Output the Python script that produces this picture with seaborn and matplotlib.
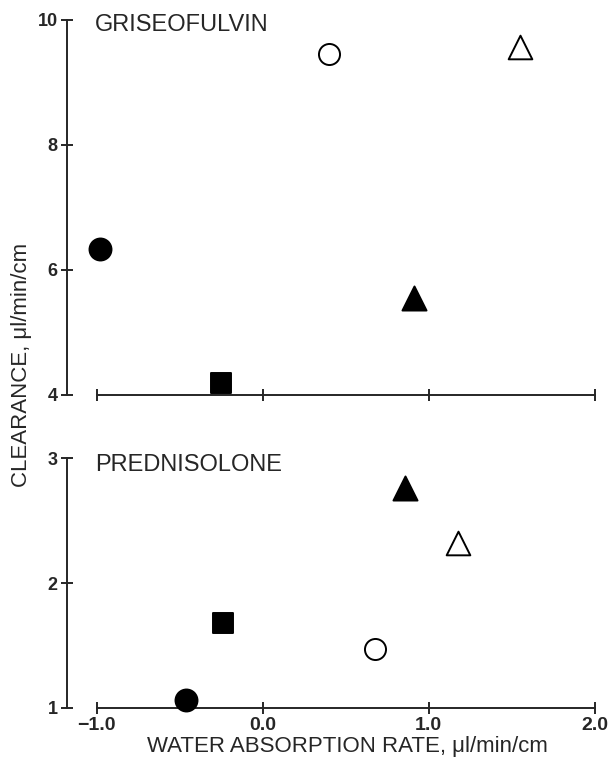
import numpy as np
import matplotlib
matplotlib.use('Agg')
import matplotlib.pyplot as plt
import seaborn as sns
import pandas as pd

# Values (water absorption rate vs clearance)
symbols = ['filled circle', 'filled square', 'open circle',
           'filled triangle', 'open triangle']
griseo_rate = [-0.98, -0.25, 0.40, 0.91, 1.55]
griseo_clear = [6.33, 4.19, 9.46, 5.55, 9.57]
pred_rate = [-0.46, -0.24, 0.68, 0.86, 1.18]
pred_clear = [1.06, 1.68, 1.47, 2.76, 2.32]

griseo_yticks = [4, 6, 8, 10]
pred_yticks = [1, 2, 3]
xticks = [-1.0, 0.0, 1.0, 2.0]

sns.set_style('ticks')
plt.rcParams['font.family'] = ['Liberation Sans', 'DejaVu Sans']

# marker, face colour, size (pt^2)
marker_style = {
    'filled circle': ('o', 'black', 250),
    'filled square': ('s', 'black', 220),
    'open circle': ('o', 'white', 230),
    'filled triangle': ('^', 'black', 300),
    'open triangle': ('^', 'white', 290),
}

df = pd.DataFrame({
    'symbol': symbols * 2,
    'rate': griseo_rate + pred_rate,
    'clearance': griseo_clear + pred_clear,
    'drug': ['GRISEOFULVIN'] * 5 + ['PREDNISOLONE'] * 5,
})

fig = plt.figure(figsize=(6.12, 7.61), dpi=100)
ax1 = fig.add_axes([0.109, 0.481, 0.868, 0.497])
ax2 = fig.add_axes([0.109, 0.070, 0.868, 0.336])


def draw_panel(ax, sub, ylim, yticks, title, title_y):
    for sym, grp in sub.groupby('symbol', sort=False):
        m, face, s = marker_style[sym]
        sns.scatterplot(data=grp, x='rate', y='clearance', marker=m,
                        color=face, edgecolor='black', linewidth=1.4,
                        s=s, clip_on=False, zorder=5, ax=ax, legend=False)
    ax.set_xlim(-1.18, 2.02)
    ax.set_ylim(*ylim)
    ax.set_xticks(xticks)
    ax.set_yticks(yticks)
    for side in ['top', 'right']:
        ax.spines[side].set_visible(False)
    ax.spines['bottom'].set_bounds(-1, 2)
    ax.spines['left'].set_bounds(yticks[0], yticks[-1])
    for side in ['bottom', 'left']:
        ax.spines[side].set_linewidth(1.4)
    ax.tick_params(direction='inout', length=9, width=1.4, labelsize=13,
                   pad=2)
    for lab in ax.get_yticklabels():
        lab.set_fontweight('bold')
    ax.set_xlabel('')
    ax.set_ylabel('')
    ax.text(0.053, title_y, title, transform=ax.transAxes, fontsize=17,
            va='center', ha='left')


draw_panel(ax1, df[df['drug'] == 'GRISEOFULVIN'], (4, 10.05),
           griseo_yticks, 'GRISEOFULVIN', 0.979)
ax1.set_xticklabels([])

draw_panel(ax2, df[df['drug'] == 'PREDNISOLONE'], (1, 3.05),
           pred_yticks, 'PREDNISOLONE', 0.949)
ax2.set_xticklabels(['\u22121.0', '0.0', '1.0', '2.0'], fontweight='bold',
                    fontsize=14)
ax2.set_xlabel('WATER ABSORPTION RATE, \u03bcl/min/cm', fontsize=16)
# centre the label under the drawn axis line rather than the axes box
ax2.xaxis.set_label_coords(0.528, -0.112)

fig.text(0.035, 0.52, 'CLEARANCE, \u03bcl/min/cm', rotation=90,
         fontsize=16, va='center', ha='center')

fig.savefig('out.png', dpi=100)
